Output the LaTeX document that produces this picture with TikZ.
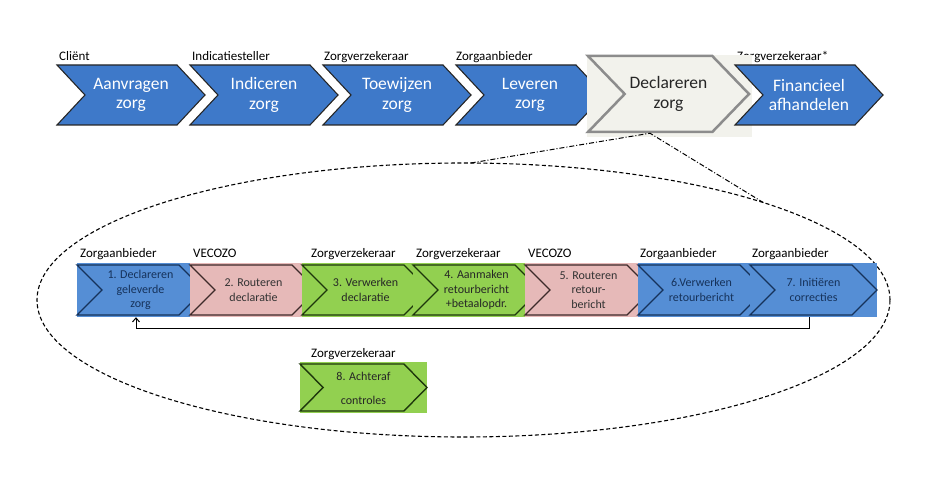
\documentclass[tikz,border=0pt]{standalone}
\usepackage{fontspec}
\setmainfont{Carlito}
\usetikzlibrary{shapes.symbols, shapes.geometric, arrows.meta, positioning}

\definecolor{procblue}{RGB}{62,121,201}
\definecolor{stepblue}{RGB}{85,142,213}
\definecolor{steppink}{RGB}{230,185,184}
\definecolor{stepgreen}{RGB}{146,208,80}
\definecolor{declfill}{RGB}{242,242,236}
\definecolor{declline}{RGB}{140,140,140}
\definecolor{bluedark}{RGB}{22,50,90}
\definecolor{pinkdark}{RGB}{62,42,42}
\definecolor{greendark}{RGB}{30,55,12}

\begin{document}
\begin{tikzpicture}[x=1pt, y=-1pt,
    chev/.style={signal, signal from=west, signal to=east, inner sep=0pt, align=center},
    mainchev/.style={chev, draw=black!85, line width=1.1pt, fill=procblue, text=white,
                minimum width=148pt, minimum height=60pt, signal pointer angle=94,
                font=\fontsize{17.5}{19.5}\selectfont},
    stepbg/.style={rectangle, inner sep=0pt, minimum width=113pt, minimum height=54pt},
    stepchev/.style={chev, line width=1.4pt, minimum width=127pt, minimum height=50pt,
                signal pointer angle=90, font=\fontsize{12}{14.5}\selectfont},
    bluestep/.style={stepchev, fill=stepblue, draw=bluedark, text=bluedark},
    pinkstep/.style={stepchev, fill=steppink, draw=pinkdark, text=black!80},
    greenstep/.style={stepchev, fill=stepgreen, draw=greendark, text=black!85},
    actor/.style={anchor=base west, inner sep=0pt, font=\fontsize{13}{15}\selectfont},
    detail/.style={ellipse, draw, dash pattern=on 4pt off 2.5pt, line width=1.1pt,
                minimum width=853pt, minimum height=274pt, inner sep=0pt, outer sep=0pt},
    zoomline/.style={line width=1pt, dash pattern=on 5pt off 2pt on 1pt off 2pt},
    back/.style={-{Straight Barb[length=4pt, width=7pt]}, line width=1pt},
]
    \useasboundingbox (0,0) rectangle (930,489);

    % main process
    \node[actor] (lclient)  at (59,61)  {Cliënt};
    \node[actor] (lindic)   at (192,61) {Indicatiesteller};
    \node[actor] (lverz)    at (324,61) {Zorgverzekeraar};
    \node[actor] (laanb)    at (456,61) {Zorgaanbieder};
    \node[actor] (lfin)     at (737,61) {Zorgverzekeraar*};

    \node[mainchev] (aanvragen) at (131,95) {Aanvragen\\zorg};
    \node[mainchev] (indiceren) at (264,95) {Indiceren\\zorg};
    \node[mainchev] (toewijzen) at (397,95) {Toewijzen\\zorg};
    \node[mainchev] (leveren)   at (530,95) {Leveren\\zorg};

    \node[rectangle, fill=declfill, inner sep=0pt, minimum width=165pt,
          minimum height=82pt] (declbg) at (669.5,96) {};
    \node[chev, fill=declfill, draw=declline, line width=2.5pt, text=black!85,
          minimum width=161pt, minimum height=76pt, signal pointer angle=92,
          font=\fontsize{17.5}{19.5}\selectfont] (decl) at (668.5,94) {Declareren\\zorg};
    \node[mainchev] (financieel) at (809,95) {Financieel\\afhandelen};

    % detail of declareren
    \node[detail] (ring) at (463.5,300) {};
    \draw[zoomline] (ring.87) -- ([xshift=-18.5pt]decl.south) -- (ring.18.5);

    \node[actor] (l1) at (80,258)  {Zorgaanbieder};
    \node[actor] (l2) at (193,258) {VECOZO};
    \node[actor] (l3) at (311,258) {Zorgverzekeraar};
    \node[actor] (l4) at (416,258) {Zorgverzekeraar};
    \node[actor] (l5) at (528,258) {VECOZO};
    \node[actor] (l6) at (640,258) {Zorgaanbieder};
    \node[actor] (l7) at (752,258) {Zorgaanbieder};

    \node[stepbg, fill=stepblue]  (r1) at (133.5,290) {};
    \node[bluestep]  (s1) at (140.5,290) {1. Declareren\\geleverde\\zorg};
    \node[stepbg, fill=steppink]  (r2) at (246.5,290) {};
    \node[pinkstep]  (s2) at (253.5,290) {2. Routeren\\declaratie};
    \node[stepbg, fill=stepgreen] (r3) at (358.5,290) {};
    \node[greenstep] (s3) at (365.5,290) {3. Verwerken\\declaratie};
    \node[stepbg, fill=stepgreen] (r4) at (469.5,290) {};
    \node[greenstep] (s4) at (476.5,290) {4. Aanmaken\\retourbericht\\+betaalopdr.};
    \node[stepbg, fill=steppink]  (r5) at (581.5,290) {};
    \node[pinkstep]  (s5) at (588.5,290) {5. Routeren\\retour-\\bericht};
    \node[stepbg, fill=stepblue]  (r6) at (694.5,290) {};
    \node[bluestep]  (s6) at (701.5,290) {6.Verwerken\\retourbericht};
    \node[stepbg, fill=stepblue, minimum width=127pt] (r7) at (813.5,290) {};
    \node[bluestep]  (s7) at (813.5,290) {7. Initiëren\\correcties};

    \draw[back] ([xshift=-4.5pt]r7.south) -- ++(0,11) -| ([xshift=2.5pt]r1.south);

    \node[actor] (l8) at (311,357) {Zorgverzekeraar};
    \node[stepbg, fill=stepgreen, minimum width=127pt, minimum height=51pt] (r8) at (363.5,387.5) {};
    \node[greenstep, minimum height=47pt, signal pointer angle=91] (s8) at (363.5,387.5)
          {\strut8. Achteraf\\[9pt]controles};
\end{tikzpicture}
\end{document}
